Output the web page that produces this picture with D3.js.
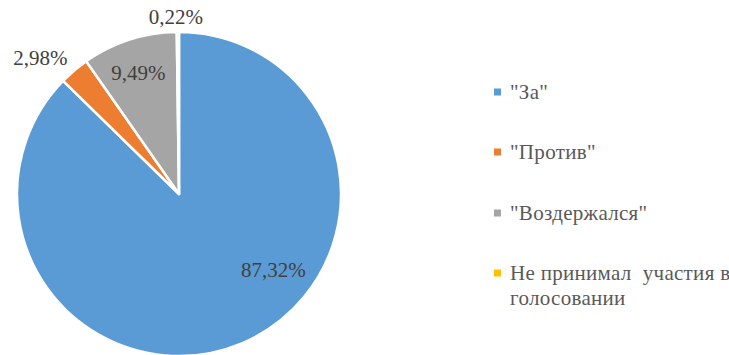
<!DOCTYPE html>
<html><head><meta charset="utf-8">
<script src="https://cdn.jsdelivr.net/npm/d3@7"></script>
<style>body{margin:0;background:#fff}svg{display:block}
text{font-family:"Times New Roman","Liberation Serif","DejaVu Serif",serif}</style>
</head><body>
<svg id="c" width="729" height="355"></svg>
<script>
const categories = ['"За"', '"Против"', '"Воздержался"', 'Не принимал  участия в голосовании'];
const values = [87.32, 2.98, 9.49, 0.22];
const valueLabels = ["87,32%", "2,98%", "9,49%", "0,22%"];
const colors = ["#5B9BD5", "#ED7D31", "#A5A5A5", "#FFC000"];

const svg = d3.select("#c");
const cx = 179, cy = 194, R = 162;
const g = svg.append("g").attr("transform", `translate(${cx},${cy})`);
const pie = d3.pie().sort(null).value(d => d)(values);
const arc = d3.arc().innerRadius(0).outerRadius(R);
g.selectAll("path").data(pie).join("path")
  .attr("d", arc).attr("fill", (d, i) => colors[i])
  .attr("stroke", "#fff").attr("stroke-width", 2.5).attr("stroke-linejoin", "round");

// label placement (angle in degrees clockwise from top, radius fraction)
const labelPlace = [[129, 0.75], [314.5, 1.2], [341.5, 0.79], [-1, 1.09]];
g.selectAll("text.v").data(pie).join("text").attr("class", "v")
  .attr("x", (d, i) => Math.sin(labelPlace[i][0] * Math.PI / 180) * R * labelPlace[i][1])
  .attr("y", (d, i) => -Math.cos(labelPlace[i][0] * Math.PI / 180) * R * labelPlace[i][1])
  .attr("text-anchor", "middle").attr("dominant-baseline", "central")
  .attr("font-size", 21)
  .attr("fill", "#404040").text((d, i) => valueLabels[i]);

// legend
const lx = 494, ly = [92, 152, 213, 273];
const lg = svg.append("g");
categories.forEach((c, i) => {
  lg.append("rect").attr("x", lx).attr("y", ly[i] - 3.5).attr("width", 7).attr("height", 7).attr("fill", colors[i]);
  const t = lg.append("text").attr("x", lx + 16).attr("y", ly[i]).attr("dominant-baseline", "central")
    .attr("font-size", 21)
    .attr("fill", "#595959").attr("letter-spacing", 0.3);
  if (i === 3) {
    t.append("tspan").attr("x", lx + 16).text("Не принимал  участия в").attr("xml:space", "preserve");
    t.append("tspan").attr("x", lx + 16).attr("dy", 25).text("голосовании");
  } else t.text(c);
});
</script>
</body></html>
